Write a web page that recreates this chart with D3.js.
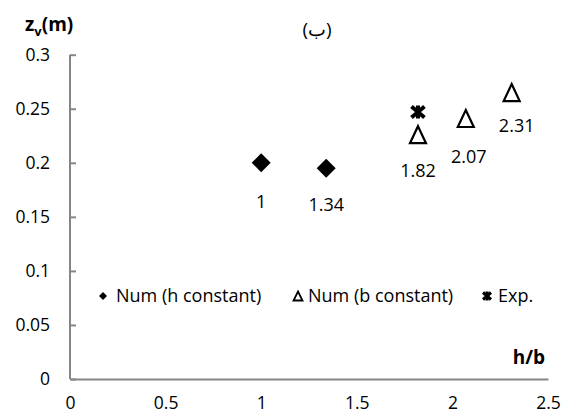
<!DOCTYPE html>
<html><head><meta charset="utf-8">
<script src="https://cdn.jsdelivr.net/npm/d3@7"></script>
<style>
body{margin:0;background:#fff;}
text{font-family:"Open Sans",sans-serif;fill:#000;}
</style></head>
<body><svg id="c" width="571" height="419"></svg>
<script>
// Data
const hConstX = [1, 1.34];
const hConstY = [0.200, 0.195];
const hConstLabels = ["1", "1.34"];
const bConstX = [1.82, 2.07, 2.31];
const bConstY = [0.226, 0.241, 0.265];
const bConstLabels = ["1.82", "2.07", "2.31"];
const expX = [1.82];
const expY = [0.247];
const xTicks = [0, 0.5, 1, 1.5, 2, 2.5];
const yTicks = [0, 0.05, 0.1, 0.15, 0.2, 0.25, 0.3];
const legendNames = ["Num (h constant)", "Num (b constant)", "Exp."];

const svg = d3.select("#c");
const x = d3.scaleLinear().domain([0, 2.5]).range([70, 548]);
const y = d3.scaleLinear().domain([0, 0.3]).range([379, 54.7]);
const axisColor = "#868686";

// x axis
const xa = svg.append("g").attr("transform", `translate(0,${y(0)})`)
  .call(d3.axisBottom(x).tickValues(xTicks).tickSize(0).tickPadding(18).tickFormat(d3.format("")));
xa.select(".domain").attr("stroke", axisColor).attr("stroke-width", 2);
xa.selectAll("text").attr("font-size", 17.5).attr("font-family", "Open Sans");

// y axis
const ya = svg.append("g").attr("transform", `translate(${x(0)},0)`)
  .call(d3.axisLeft(y).tickValues(yTicks).tickSize(-6).tickPadding(20).tickFormat(d3.format("")));
ya.select(".domain").attr("stroke", axisColor).attr("stroke-width", 2).attr("d", `M0,${y(0.3)}V${y(0)}`);
ya.selectAll(".tick line").attr("stroke", axisColor).attr("stroke-width", 2);
ya.selectAll("text").attr("font-size", 17.5).attr("font-family", "Open Sans");

// titles
const yt = svg.append("text").attr("x", 25).attr("y", 31).attr("font-size", 19).attr("font-weight", "bold");
yt.append("tspan").text("z");
yt.append("tspan").text("v").attr("font-size", 13).attr("dy", 5);
yt.append("tspan").text("(m)").attr("dy", -5);
svg.append("text").attr("x", 545).attr("y", 364).attr("text-anchor", "end")
  .attr("font-size", 19).attr("font-weight", "bold").text("h/b");
svg.append("text").attr("x", 317).attr("y", 36).attr("text-anchor", "middle")
  .attr("font-size", 19).text("(ب)");

// markers
const diamond = s => `M0,${-s}L${s},0L0,${s}L${-s},0Z`;
const tri = (w, h) => `M0,${-h/2}L${w/2},${h/2}L${-w/2},${h/2}Z`;
const star = (w, h) => `M${-w/2},${-h/2}L${w/2},${h/2}M${w/2},${-h/2}L${-w/2},${h/2}M0,${-h/2-1}L0,${h/2+1}`;

svg.append("g").selectAll("path").data(hConstX).join("path")
  .attr("transform", (d, i) => `translate(${x(d)},${y(hConstY[i])})`)
  .attr("d", diamond(9.5)).attr("fill", "#000");
svg.append("g").selectAll("path").data(bConstX).join("path")
  .attr("transform", (d, i) => `translate(${x(d)},${y(bConstY[i])})`)
  .attr("d", tri(16, 17)).attr("fill", "#fff").attr("stroke", "#000").attr("stroke-width", 2.2);
svg.append("g").selectAll("path").data(expX).join("path")
  .attr("transform", (d, i) => `translate(${x(d)},${y(expY[i])})`)
  .attr("d", star(13, 11)).attr("fill", "none").attr("stroke", "#000").attr("stroke-width", 4);

// point labels
const labOff = [[0, 39], [0, 37]];
svg.append("g").selectAll("text").data(hConstLabels).join("text")
  .attr("x", (d, i) => x(hConstX[i]))
  .attr("y", (d, i) => y(hConstY[i]) + labOff[i][1] + 6)
  .attr("text-anchor", "middle").attr("font-size", 18).text(d => d);
const bOff = [[0, 36], [3, 39], [5, 33]];
svg.append("g").selectAll("text").data(bConstLabels).join("text")
  .attr("x", (d, i) => x(bConstX[i]) + bOff[i][0])
  .attr("y", (d, i) => y(bConstY[i]) + bOff[i][1] + 6)
  .attr("text-anchor", "middle").attr("font-size", 18).text(d => d);

// legend
const lg = svg.append("g");
const lgX = [103, 298, 487];
lg.append("path").attr("transform", `translate(${lgX[0]},296)`).attr("d", diamond(4)).attr("fill", "#000");
lg.append("path").attr("transform", `translate(${lgX[1]},296)`).attr("d", tri(9, 9)).attr("fill", "#fff").attr("stroke", "#000").attr("stroke-width", 1.8);
lg.append("path").attr("transform", `translate(${lgX[2]},296)`).attr("d", star(8, 7)).attr("fill", "none").attr("stroke", "#000").attr("stroke-width", 3);
lg.selectAll("text").data(legendNames).join("text")
  .attr("x", (d, i) => lgX[i] + [13, 10, 11][i]).attr("y", 302)
  .attr("font-size", 18).text(d => d);
</script></body></html>
